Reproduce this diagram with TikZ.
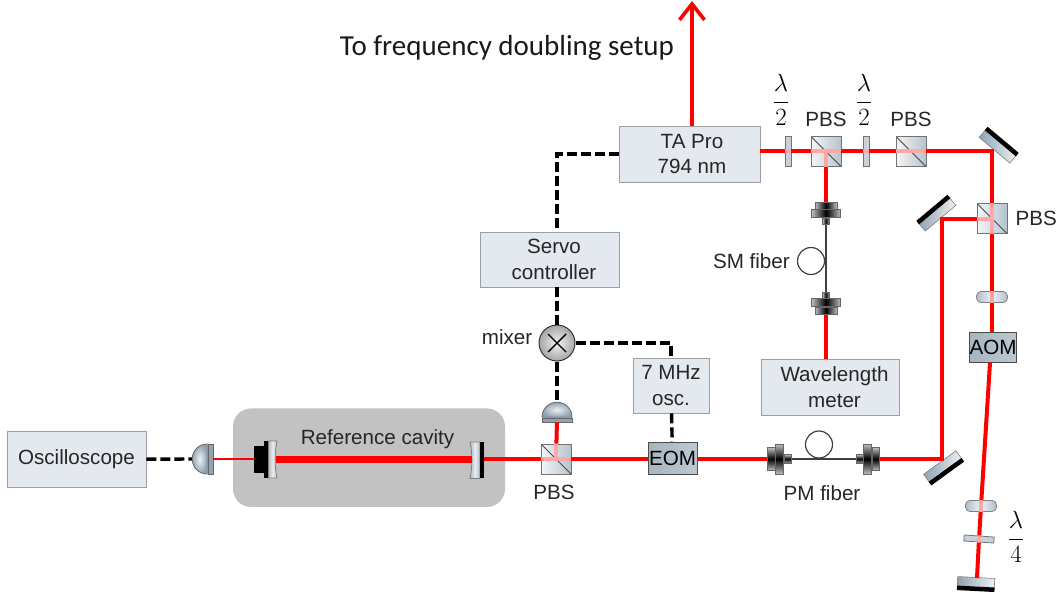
\documentclass[tikz,border=0pt]{standalone}
\usepackage[no-math]{fontspec}
\usepackage{amsmath}
\setmainfont{Liberation Sans}
\newfontfamily\calfont{Carlito}
\usetikzlibrary{positioning,arrows.meta,shapes.geometric}

\definecolor{boxfill}{HTML}{E4E9F0}
\definecolor{boxline}{HTML}{9A9FA3}
\definecolor{steel}{HTML}{8FA3B2}
\definecolor{beamred}{HTML}{FF0000}

\begin{document}
\begin{tikzpicture}[
    x=1pt, y=-1pt,
    node distance=0pt,
    label/.style={font=\fontsize{20.6}{24}\selectfont, text=black!85, inner sep=0pt},
    block/.style={rectangle, draw=boxline, line width=0.8pt, fill=boxfill, align=center, inner sep=0pt, font=\fontsize{20.6}{25.5}\selectfont, text=black!85},
    modulator/.style={rectangle, draw=black!70, line width=1pt, left color=steel!80, right color=steel!60, inner sep=0pt, minimum height=32pt, font=\fontsize{20.6}{24}\selectfont},
    cube/.style={rectangle, draw=black!55, line width=0.8pt, left color=white!90!steel, right color=steel!65, minimum size=30pt, inner sep=0pt,
        path picture={\draw[black!70, line width=0.8pt] (path picture bounding box.north west) -- (path picture bounding box.south east);}},
    plate/.style={rectangle, draw=black!55, line width=0.8pt, fill=steel!50, inner sep=0pt},
    lens/.style={rectangle, rounded corners=4.5pt, draw=black!50, line width=0.8pt, left color=steel!70, right color=steel!70, middle color=white!85!steel, minimum width=31pt, minimum height=11pt, inner sep=0pt},
    mirror/.style={rectangle, draw=black!50, line width=0.6pt, left color=steel, right color=white!85!steel, minimum width=40pt, minimum height=11pt, inner sep=0pt},
    mirrorback/.style={line width=4.5pt, black},
    cavmirror/.style={draw=black!50, line width=0.8pt, left color=steel!70, right color=steel!70, middle color=white!80!steel},
    dome/.style={semicircle, draw=black!60, line width=0.8pt, inner color=white!85!steel, outer color=steel, inner sep=0pt, minimum size=15pt},
    detplate/.style={rectangle, draw=black!60, line width=0.8pt, fill=steel, inner sep=0pt},
    cplv/.style={rectangle, draw=black!60, line width=0.6pt, left color=black!25, right color=black!25, middle color=black, inner sep=0pt},
    cplh/.style={rectangle, draw=black!60, line width=0.6pt, top color=black!25, bottom color=black!25, middle color=black, inner sep=0pt},
    fiberloop/.style={circle, draw=black!75, line width=1.2pt, minimum size=27pt, inner sep=0pt},
    fiber/.style={black!75, line width=1.4pt},
    beam/.style={beamred, line width=4pt},
    beamthin/.style={beamred, line width=1.5pt},
    beamfaint/.style={beamred!35, line width=4pt},
    signal/.style={black, line width=3.4pt, dash pattern=on 10pt off 4pt}
]
\useasboundingbox (0,0) rectangle (1059,596);

% cavity housing
\node[rectangle, rounded corners=18pt, fill=black!24, minimum width=272pt, minimum height=98.5pt, inner sep=0pt] (housing) at (369,457.7) {};
\node[label] (cavlabel) at (377.5,439) {Reference cavity};

% boxes
\node[block, minimum width=139pt, minimum height=56.5pt] (scope) at (76.5,459.5) {Oscilloscope};
\node[block, minimum width=141pt, minimum height=56pt] (ta) at (689.5,154) {\hspace*{5pt}TA Pro\\\hspace*{5pt}794 nm};
\node[block, minimum width=139pt, minimum height=55pt] (servo) at (549.5,259.5) {\hspace*{9pt}Servo\\\hspace*{9pt}controller};
\node[block, minimum width=76pt, minimum height=55pt] (osc) at (671,385.5) {7 MHz\\osc.};
\node[block, minimum width=138pt, minimum height=56pt] (wave) at (830,387) {\hspace*{9pt}Wavelength\\\hspace*{9pt}meter};
\node[modulator, minimum width=49pt] (eom) at (672.5,458) {EOM};
\node[modulator, minimum width=47pt, minimum height=30pt] (aom) at (993,347) {AOM};

% mixer
\node[circle, draw=black!80, line width=1pt, inner color=white!95!black, outer color=black!35, minimum size=36pt, inner sep=0pt,
    path picture={\draw[black, line width=1.4pt] ([shift={(-9,-9)}]path picture bounding box.center) -- ([shift={(9,9)}]path picture bounding box.center) ([shift={(-9,9)}]path picture bounding box.center) -- ([shift={(9,-9)}]path picture bounding box.center);}] (mixer) at (557,343) {};
\node[label, left=6pt of mixer, yshift=6pt] (mixerlabel) {mixer};

% cubes and their labels
\node[cube] (pbsa) at (826,151.5) {};
\node[cube] (pbsb) at (911,151.5) {};
\node[cube] (pbsc) at (992,218.5) {};
\node[cube] (pbsd) at (556,459) {};
\node[label, above=9pt of pbsa] (pbsalabel) {PBS};
\node[label, above=9pt of pbsb] (pbsblabel) {PBS};
\node[label, right=8pt of pbsc] (pbsclabel) {PBS};
\node[label, below=11pt of pbsd, xshift=-2pt] (pbsdlabel) {PBS};

% wave plates
\node[plate, minimum width=6pt, minimum height=30pt] (wpa) at (788,151.5) {};
\node[plate, minimum width=6pt, minimum height=30pt] (wpb) at (866,151.5) {};
\node[plate, minimum width=30pt, minimum height=6pt, rotate=-4] (wpc) at (979,539) {};
\node[inner sep=0pt, font=\fontsize{25}{30}\selectfont] (wpalabel) at (781,100) {$\displaystyle\frac{\lambda}{2}$};
\node[inner sep=0pt, font=\fontsize{25}{30}\selectfont] (wpblabel) at (864,100) {$\displaystyle\frac{\lambda}{2}$};
\node[inner sep=0pt, font=\fontsize{25}{30}\selectfont] (wpclabel) at (1016,537) {$\displaystyle\frac{\lambda}{4}$};

% lenses
\node[lens] (lensa) at (992,297) {};
\node[lens] (lensb) at (981,506) {};

% mirrors
\node[mirror, rotate=-40] (mira) at (998,146) {};
\draw[mirrorback] (mira.north west) -- (mira.north east);
\node[mirror, rotate=40] (mirb) at (937,214) {};
\draw[mirrorback] (mirb.north west) -- (mirb.north east);
\node[mirror, rotate=36] (mirc) at (943,467) {};
\draw[mirrorback] (mirc.south west) -- (mirc.south east);
\node[mirror, rotate=-3, minimum width=37pt] (mird) at (976,583) {};
\draw[mirrorback] (mird.south west) -- (mird.south east);

% cavity mirrors
\node[rectangle, fill=black, minimum width=10pt, minimum height=27pt, inner sep=0pt] (backa) at (259,459) {};
\node[rectangle, fill=black, minimum width=4.5pt, minimum height=37pt, inner sep=0pt, right=of backa] (backb) {};
\draw[cavmirror] (268.5,441) -- (277,441) .. controls (274.5,453) and (274.5,466) .. (277,478) -- (268.5,478) -- cycle;
\draw[cavmirror] (470,442) .. controls (472.5,454) and (472.5,466) .. (470,478.5) -- (480,478.5) -- (480,442) -- cycle;
\node[rectangle, fill=black, minimum width=4pt, minimum height=36.5pt, inner sep=0pt] (backc) at (482,460) {};
\coordinate (cava) at (275.5,459);
\coordinate (cavb) at (472,459);

% detectors
\node[detplate, minimum width=5pt, minimum height=30pt] (plateleft) at (210.5,459) {};
\node[dome, shape border rotate=90, anchor=chord center] (domeleft) at (plateleft.west) {};
\node[detplate, minimum width=30pt, minimum height=4pt] (platetop) at (557,420) {};
\node[dome, anchor=chord center] (dometop) at (platetop.north) {};

% fiber couplers, SM
\node[cplv, minimum width=22pt, minimum height=7pt] (smaa) at (826,205.5) {};
\node[cplv, minimum width=29pt, minimum height=8pt, below=of smaa] (smab) {};
\node[cplv, minimum width=7pt, minimum height=6pt, below=of smab] (smac) {};
\node[cplv, minimum width=7pt, minimum height=6pt] (smba) at (826,295) {};
\node[cplv, minimum width=29pt, minimum height=8pt, below=of smba] (smbb) {};
\node[cplv, minimum width=22pt, minimum height=7pt, below=of smbb] (smbc) {};
\node[fiberloop] (smloop) at (811,261) {};
\node[label, left=7pt of smloop] (smlabel) {SM fiber};

% fiber couplers, PM
\node[cplh, minimum width=8pt, minimum height=23pt] (pmaa) at (771,459) {};
\node[cplh, minimum width=8pt, minimum height=30pt, right=of pmaa] (pmab) {};
\node[cplh, minimum width=7pt, minimum height=9pt, right=of pmab] (pmac) {};
\node[cplh, minimum width=7pt, minimum height=9pt] (pmba) at (859.5,459) {};
\node[cplh, minimum width=8pt, minimum height=30pt, right=of pmba] (pmbb) {};
\node[cplh, minimum width=7pt, minimum height=23pt, right=of pmbb] (pmbc) {};
\node[fiberloop] (pmloop) at (819,444.5) {};
\node[label] (pmlabel) at (822,493) {PM fiber};

% free ends and turning points
\coordinate (out) at (692,1);
\coordinate (turna) at (992,151.5);
\coordinate (turnb) at (942,218.5);
\coordinate (turnc) at (942,459);
\coordinate (endbeam) at (977,578);

% fibers
\draw[fiber] (smac) -- (smba);
\draw[fiber] (pmac) -- (pmba);

% beams
\draw[beam, -{Straight Barb[length=16pt,width=25pt,line width=3.6pt]}] (out |- ta.north) -- (out);
\draw[beam] (ta.east |- wpa) -- (wpa);
\draw[beam] (wpa) -- (pbsa);
\draw[beam] (pbsa) -- (wpb);
\draw[beam] (wpb) -- (pbsb);
\draw[beam] (pbsb) -- (turna) -- (pbsc);
\draw[beam] (pbsc) -- (lensa);
\draw[beam] (lensa) -- (lensa |- aom.north);
\draw[beam] ([xshift=-3pt]aom.south) -- (lensb);
\draw[beam] (lensb) -- (wpc);
\draw[beam] (wpc) -- (endbeam);
\draw[beam] (pbsc) -- (turnb) -- (turnc) -- (pmbc);
\draw[beam] (pbsa) -- (smaa);
\draw[beam] (smbc) -- (smbc |- wave.north);
\draw[beam] (pmaa) -- (eom.east |- pmaa);
\draw[beam] (eom.west |- pbsd) -- (pbsd);
\draw[beam] (pbsd) -- (backc.east |- pbsd);
\draw[beam] (pbsd) -- (platetop);
\draw[beamred, line width=7pt] (cava) -- (cavb);
\draw[beamthin] (backa) -- (plateleft);

% faint parts inside the optics
\draw[beamfaint] (pbsa.west) -- (pbsa.east);
\draw[beamfaint] (pbsa.center) -- (pbsa.south);
\draw[beamfaint] (pbsb.west) -- (pbsb.east);
\draw[beamfaint] (pbsc.north) -- (pbsc.south);
\draw[beamfaint] (pbsc.west) -- (pbsc.center);
\draw[beamfaint] (pbsd.west) -- (pbsd.east);
\draw[beamfaint] (pbsd.center) -- (pbsd.north);
\draw[beamfaint] (wpa.west) -- (wpa.east);
\draw[beamfaint] (wpb.west) -- (wpb.east);
\draw[beamfaint] (lensa.north) -- (lensa.south);
\draw[beamfaint] (lensb.north) -- (lensb.south);
\draw[beamfaint] (wpc.north) -- (wpc.south);

% signal lines
\draw[signal] (scope) -- (domeleft.apex);
\draw[signal] (ta.west) -| (mixer |- servo.north);
\draw[signal] (mixer |- servo.south) -- (mixer);
\draw[signal] (mixer) -- (dometop.apex);
\draw[signal] (mixer) -| (osc);
\draw[signal] (osc) -- (eom);

% title
\node[inner sep=0pt, font=\fontsize{29}{34}\selectfont\calfont, text=black!90] (title) at (507,48) {To frequency doubling setup};
\end{tikzpicture}
\end{document}
